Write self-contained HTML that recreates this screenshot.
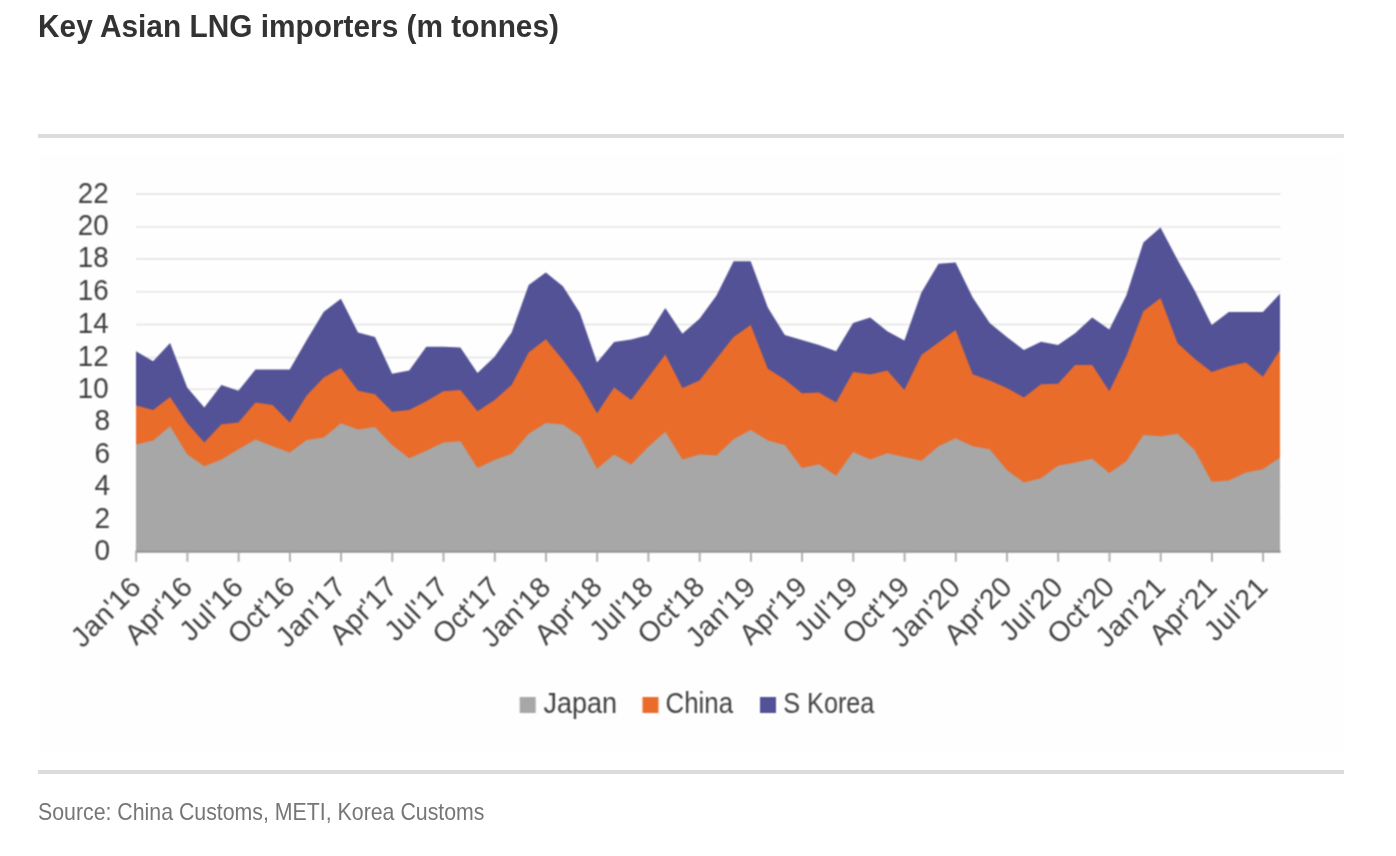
<!DOCTYPE html>
<html><head><meta charset="utf-8"><title>Key Asian LNG importers</title>
<style>
html,body{margin:0;padding:0;background:#fff;}
body{width:1396px;height:856px;position:relative;overflow:hidden;font-family:"Liberation Sans",sans-serif;}
.title{position:absolute;left:38px;top:9px;font-size:30.7px;line-height:36px;font-weight:bold;color:#333;white-space:nowrap;transform-origin:0 0;transform:scaleX(0.972);}
.rule{position:absolute;left:38px;width:1306px;height:4px;background:#dcdcdc;}
.src{position:absolute;left:38px;top:797px;font-size:23.4px;line-height:30px;color:#767676;white-space:nowrap;transform-origin:0 0;transform:scaleX(0.911);}
svg{position:absolute;left:0;top:0;}
svg text{font-family:"Liberation Sans",sans-serif;fill:#404040;}
</style></head><body>
<div class="title">Key Asian LNG importers (m tonnes)</div>
<div class="rule" style="top:134px"></div>
<svg width="1396" height="856" viewBox="0 0 1396 856">
<defs><filter id="bl" x="0" y="0" width="1396" height="856" filterUnits="userSpaceOnUse" color-interpolation-filters="sRGB"><feConvolveMatrix order="3" kernelMatrix="1 2 1 2 4 2 1 2 1" divisor="16" edgeMode="duplicate" preserveAlpha="false"/></filter></defs>
<g filter="url(#bl)">
<rect x="38" y="153" width="1306" height="599" fill="#fefefe"/>
<line x1="136" y1="194.1" x2="1280.5" y2="194.1" stroke="#e4e4e4" stroke-width="1.6"/>
<line x1="136" y1="227.0" x2="1280.5" y2="227.0" stroke="#e4e4e4" stroke-width="1.6"/>
<line x1="136" y1="258.9" x2="1280.5" y2="258.9" stroke="#e4e4e4" stroke-width="1.6"/>
<line x1="136" y1="291.8" x2="1280.5" y2="291.8" stroke="#e4e4e4" stroke-width="1.6"/>
<line x1="136" y1="324.5" x2="1280.5" y2="324.5" stroke="#e4e4e4" stroke-width="1.6"/>
<line x1="136" y1="357.5" x2="1280.5" y2="357.5" stroke="#e4e4e4" stroke-width="1.6"/>
<line x1="136" y1="389.3" x2="1280.5" y2="389.3" stroke="#e4e4e4" stroke-width="1.6"/>
<line x1="136" y1="421.8" x2="1280.5" y2="421.8" stroke="#e4e4e4" stroke-width="1.6"/>
<line x1="136" y1="454.4" x2="1280.5" y2="454.4" stroke="#e4e4e4" stroke-width="1.6"/>
<line x1="136" y1="486.9" x2="1280.5" y2="486.9" stroke="#e4e4e4" stroke-width="1.6"/>
<line x1="136" y1="519.4" x2="1280.5" y2="519.4" stroke="#e4e4e4" stroke-width="1.6"/>
<polygon points="136.0,530 136.0,351.2 153.1,361.2 170.1,343.0 187.2,387.5 204.3,407.5 221.4,385.0 238.4,390.8 255.5,369.5 272.6,369.5 289.7,369.5 306.7,340.0 323.8,311.8 340.9,298.8 358.0,332.5 375.0,337.0 392.1,373.8 409.2,370.5 426.3,346.8 443.3,346.8 460.4,347.5 477.5,373.0 494.6,356.8 511.6,332.5 528.7,285.0 545.8,272.5 562.9,286.2 579.9,313.0 597.0,362.5 614.1,342.0 631.2,339.5 648.2,335.0 665.3,308.0 682.4,333.8 699.5,318.8 716.5,295.5 733.6,261.2 750.7,261.2 767.8,307.5 784.8,335.0 801.9,340.0 819.0,345.0 836.1,351.2 853.1,323.0 870.2,317.5 887.3,331.2 904.4,340.5 921.4,292.5 938.5,263.8 955.6,262.5 972.7,297.5 989.7,323.0 1006.8,337.0 1023.9,350.0 1041.0,341.8 1058.0,345.0 1075.1,333.2 1092.2,317.5 1109.3,329.5 1126.3,295.5 1143.4,242.5 1160.5,227.5 1177.6,260.0 1194.6,290.5 1211.7,325.0 1228.8,312.0 1245.9,312.0 1262.9,312.0 1280.0,293.8 1280.0,530" fill="#535296"/>
<polygon points="136.0,530 136.0,405.5 153.1,410.0 170.1,397.0 187.2,423.0 204.3,442.5 221.4,424.2 238.4,422.5 255.5,402.5 272.6,405.0 289.7,422.5 306.7,395.5 323.8,377.5 340.9,368.0 358.0,390.8 375.0,394.2 392.1,411.8 409.2,410.0 426.3,401.2 443.3,391.2 460.4,390.0 477.5,411.2 494.6,400.0 511.6,385.0 528.7,352.5 545.8,339.2 562.9,360.0 579.9,383.0 597.0,413.2 614.1,387.5 631.2,400.0 648.2,377.5 665.3,354.5 682.4,388.0 699.5,380.5 716.5,358.8 733.6,337.0 750.7,325.0 767.8,368.8 784.8,379.5 801.9,393.2 819.0,392.5 836.1,402.5 853.1,372.0 870.2,374.5 887.3,370.5 904.4,390.0 921.4,355.0 938.5,342.5 955.6,330.0 972.7,374.2 989.7,380.5 1006.8,388.0 1023.9,397.5 1041.0,384.2 1058.0,383.8 1075.1,365.0 1092.2,365.0 1109.3,391.2 1126.3,356.2 1143.4,311.2 1160.5,298.0 1177.6,343.2 1194.6,358.8 1211.7,372.0 1228.8,366.2 1245.9,362.5 1262.9,376.8 1280.0,350.0 1280.0,530" fill="#ea6c2b"/>
<polygon points="136.0,552.4 136.0,444.5 153.1,440.5 170.1,426.2 187.2,454.2 204.3,466.2 221.4,459.5 238.4,449.2 255.5,439.5 272.6,446.2 289.7,452.5 306.7,440.0 323.8,437.5 340.9,423.2 358.0,429.5 375.0,427.0 392.1,445.0 409.2,458.2 426.3,450.8 443.3,442.5 460.4,441.2 477.5,468.0 494.6,460.0 511.6,453.8 528.7,433.8 545.8,423.0 562.9,424.5 579.9,436.2 597.0,468.8 614.1,454.5 631.2,464.5 648.2,447.0 665.3,431.8 682.4,459.5 699.5,454.5 716.5,455.5 733.6,439.2 750.7,430.0 767.8,440.5 784.8,445.0 801.9,468.0 819.0,464.2 836.1,475.8 853.1,452.0 870.2,459.5 887.3,453.2 904.4,457.0 921.4,460.8 938.5,446.2 955.6,438.2 972.7,446.2 989.7,449.2 1006.8,470.0 1023.9,482.5 1041.0,478.2 1058.0,465.8 1075.1,462.5 1092.2,458.8 1109.3,473.0 1126.3,461.2 1143.4,435.0 1160.5,436.2 1177.6,433.8 1194.6,450.0 1211.7,481.8 1228.8,480.5 1245.9,472.5 1262.9,469.2 1280.0,457.5 1280.0,552.4" fill="#a7a7a7"/>
<line x1="135.3" y1="551.6" x2="1280.8" y2="551.6" stroke="#909090" stroke-width="1.8"/>
<line x1="136.2" y1="551.5" x2="136.2" y2="561.7" stroke="#a8a8a8" stroke-width="1.8"/>
<line x1="187.4" y1="551.5" x2="187.4" y2="561.7" stroke="#a8a8a8" stroke-width="1.8"/>
<line x1="238.6" y1="551.5" x2="238.6" y2="561.7" stroke="#a8a8a8" stroke-width="1.8"/>
<line x1="289.9" y1="551.5" x2="289.9" y2="561.7" stroke="#a8a8a8" stroke-width="1.8"/>
<line x1="341.1" y1="551.5" x2="341.1" y2="561.7" stroke="#a8a8a8" stroke-width="1.8"/>
<line x1="392.3" y1="551.5" x2="392.3" y2="561.7" stroke="#a8a8a8" stroke-width="1.8"/>
<line x1="443.5" y1="551.5" x2="443.5" y2="561.7" stroke="#a8a8a8" stroke-width="1.8"/>
<line x1="494.8" y1="551.5" x2="494.8" y2="561.7" stroke="#a8a8a8" stroke-width="1.8"/>
<line x1="546.0" y1="551.5" x2="546.0" y2="561.7" stroke="#a8a8a8" stroke-width="1.8"/>
<line x1="597.2" y1="551.5" x2="597.2" y2="561.7" stroke="#a8a8a8" stroke-width="1.8"/>
<line x1="648.4" y1="551.5" x2="648.4" y2="561.7" stroke="#a8a8a8" stroke-width="1.8"/>
<line x1="699.7" y1="551.5" x2="699.7" y2="561.7" stroke="#a8a8a8" stroke-width="1.8"/>
<line x1="750.9" y1="551.5" x2="750.9" y2="561.7" stroke="#a8a8a8" stroke-width="1.8"/>
<line x1="802.1" y1="551.5" x2="802.1" y2="561.7" stroke="#a8a8a8" stroke-width="1.8"/>
<line x1="853.3" y1="551.5" x2="853.3" y2="561.7" stroke="#a8a8a8" stroke-width="1.8"/>
<line x1="904.6" y1="551.5" x2="904.6" y2="561.7" stroke="#a8a8a8" stroke-width="1.8"/>
<line x1="955.8" y1="551.5" x2="955.8" y2="561.7" stroke="#a8a8a8" stroke-width="1.8"/>
<line x1="1007.0" y1="551.5" x2="1007.0" y2="561.7" stroke="#a8a8a8" stroke-width="1.8"/>
<line x1="1058.2" y1="551.5" x2="1058.2" y2="561.7" stroke="#a8a8a8" stroke-width="1.8"/>
<line x1="1109.5" y1="551.5" x2="1109.5" y2="561.7" stroke="#a8a8a8" stroke-width="1.8"/>
<line x1="1160.7" y1="551.5" x2="1160.7" y2="561.7" stroke="#a8a8a8" stroke-width="1.8"/>
<line x1="1211.9" y1="551.5" x2="1211.9" y2="561.7" stroke="#a8a8a8" stroke-width="1.8"/>
<line x1="1263.1" y1="551.5" x2="1263.1" y2="561.7" stroke="#a8a8a8" stroke-width="1.8"/>
<text x="108.6" y="202.5" text-anchor="end" font-size="30" textLength="30.8" lengthAdjust="spacingAndGlyphs">22</text>
<text x="108.6" y="235.4" text-anchor="end" font-size="30" textLength="30.8" lengthAdjust="spacingAndGlyphs">20</text>
<text x="108.6" y="267.3" text-anchor="end" font-size="30" textLength="30.8" lengthAdjust="spacingAndGlyphs">18</text>
<text x="108.6" y="300.2" text-anchor="end" font-size="30" textLength="30.8" lengthAdjust="spacingAndGlyphs">16</text>
<text x="108.6" y="332.9" text-anchor="end" font-size="30" textLength="30.8" lengthAdjust="spacingAndGlyphs">14</text>
<text x="108.6" y="365.9" text-anchor="end" font-size="30" textLength="30.8" lengthAdjust="spacingAndGlyphs">12</text>
<text x="108.6" y="397.7" text-anchor="end" font-size="30" textLength="30.8" lengthAdjust="spacingAndGlyphs">10</text>
<text x="110.0" y="430.2" text-anchor="end" font-size="30" textLength="15.6" lengthAdjust="spacingAndGlyphs">8</text>
<text x="110.0" y="462.8" text-anchor="end" font-size="30" textLength="15.6" lengthAdjust="spacingAndGlyphs">6</text>
<text x="110.0" y="495.3" text-anchor="end" font-size="30" textLength="15.6" lengthAdjust="spacingAndGlyphs">4</text>
<text x="110.0" y="527.8" text-anchor="end" font-size="30" textLength="15.6" lengthAdjust="spacingAndGlyphs">2</text>
<text x="110.0" y="560.3" text-anchor="end" font-size="30" textLength="15.6" lengthAdjust="spacingAndGlyphs">0</text>
<text transform="translate(142.7,588.5) rotate(-45)" text-anchor="end" font-size="28.3" letter-spacing="0.45">Jan'16</text>
<text transform="translate(193.9,588.5) rotate(-45)" text-anchor="end" font-size="28.3" letter-spacing="0.12">Apr'16</text>
<text transform="translate(245.1,588.5) rotate(-45)" text-anchor="end" font-size="28.3" letter-spacing="0.55">Jul'16</text>
<text transform="translate(296.4,588.5) rotate(-45)" text-anchor="end" font-size="28.3" letter-spacing="0.0">Oct'16</text>
<text transform="translate(347.6,588.5) rotate(-45)" text-anchor="end" font-size="28.3" letter-spacing="0.45">Jan'17</text>
<text transform="translate(398.8,588.5) rotate(-45)" text-anchor="end" font-size="28.3" letter-spacing="0.12">Apr'17</text>
<text transform="translate(450.0,588.5) rotate(-45)" text-anchor="end" font-size="28.3" letter-spacing="0.55">Jul'17</text>
<text transform="translate(501.3,588.5) rotate(-45)" text-anchor="end" font-size="28.3" letter-spacing="0.0">Oct'17</text>
<text transform="translate(552.5,588.5) rotate(-45)" text-anchor="end" font-size="28.3" letter-spacing="0.45">Jan'18</text>
<text transform="translate(603.7,588.5) rotate(-45)" text-anchor="end" font-size="28.3" letter-spacing="0.12">Apr'18</text>
<text transform="translate(654.9,588.5) rotate(-45)" text-anchor="end" font-size="28.3" letter-spacing="0.55">Jul'18</text>
<text transform="translate(706.2,588.5) rotate(-45)" text-anchor="end" font-size="28.3" letter-spacing="0.0">Oct'18</text>
<text transform="translate(757.4,588.5) rotate(-45)" text-anchor="end" font-size="28.3" letter-spacing="0.45">Jan'19</text>
<text transform="translate(808.6,588.5) rotate(-45)" text-anchor="end" font-size="28.3" letter-spacing="0.12">Apr'19</text>
<text transform="translate(859.8,588.5) rotate(-45)" text-anchor="end" font-size="28.3" letter-spacing="0.55">Jul'19</text>
<text transform="translate(911.1,588.5) rotate(-45)" text-anchor="end" font-size="28.3" letter-spacing="0.0">Oct'19</text>
<text transform="translate(962.3,588.5) rotate(-45)" text-anchor="end" font-size="28.3" letter-spacing="0.45">Jan'20</text>
<text transform="translate(1013.5,588.5) rotate(-45)" text-anchor="end" font-size="28.3" letter-spacing="0.12">Apr'20</text>
<text transform="translate(1064.7,588.5) rotate(-45)" text-anchor="end" font-size="28.3" letter-spacing="0.55">Jul'20</text>
<text transform="translate(1116.0,588.5) rotate(-45)" text-anchor="end" font-size="28.3" letter-spacing="0.0">Oct'20</text>
<text transform="translate(1167.2,588.5) rotate(-45)" text-anchor="end" font-size="28.3" letter-spacing="0.45">Jan'21</text>
<text transform="translate(1218.4,588.5) rotate(-45)" text-anchor="end" font-size="28.3" letter-spacing="0.12">Apr'21</text>
<text transform="translate(1269.6,588.5) rotate(-45)" text-anchor="end" font-size="28.3" letter-spacing="0.55">Jul'21</text>
<rect x="519.7" y="697" width="16" height="16" fill="#a7a7a7"/>
<text x="543.5" y="713.1" font-size="30" textLength="73.5" lengthAdjust="spacingAndGlyphs">Japan</text>
<rect x="642.5" y="697" width="16" height="16" fill="#ea6c2b"/>
<text x="665.5" y="713.1" font-size="30" textLength="67.5" lengthAdjust="spacingAndGlyphs">China</text>
<rect x="760" y="697" width="16" height="16" fill="#535296"/>
<text x="783.3" y="713.1" font-size="30" textLength="91" lengthAdjust="spacingAndGlyphs">S Korea</text>
</g>
</svg>
<div class="rule" style="top:770px"></div>
<div class="src">Source: China Customs, METI, Korea Customs</div>
</body></html>
